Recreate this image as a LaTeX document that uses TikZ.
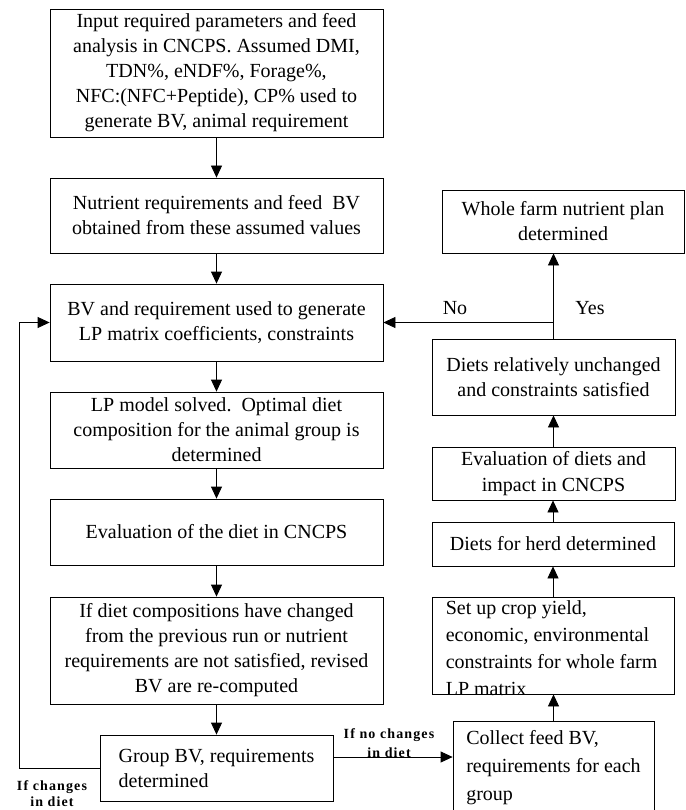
\documentclass[tikz,border=0pt]{standalone}
\usepackage{fontspec}
\setmainfont{Liberation Serif}
\usetikzlibrary{arrows.meta}

\tikzset{
  box/.style={draw, line width=0.8pt, align=center, inner sep=2pt, font=\fontsize{20}{25}\selectfont},
  plain/.style={align=left, inner sep=0pt, font=\fontsize{20}{27}\selectfont},
  arr/.style={line width=0.8pt, -{Triangle[length=12pt,width=11pt]}},
  cond/.style={align=center, inner sep=0pt, font=\fontsize{14}{19}\selectfont\bfseries\addfontfeatures{LetterSpace=8}},
}

\begin{document}
\begin{tikzpicture}[x=1pt,y=-1pt]

\useasboundingbox (0,0) rectangle (685,810);

% left column
\node[box, minimum width=333, minimum height=128] (input) at (216.5,73)
  {Input required parameters and feed\\ analysis in CNCPS. Assumed DMI,\\ TDN\%, eNDF\%, Forage\%,\\ NFC:(NFC+Peptide), CP\% used to\\ generate BV, animal requirement};
\node[box, minimum width=333, minimum height=75] (nutri) at (216.5,215.5)
  {Nutrient requirements and feed\ \ BV\\ obtained from these assumed values};
\node[box, minimum width=333, minimum height=77] (bvlp) at (216.5,322.5)
  {BV and requirement used to generate\\ LP matrix coefficients, constraints};
\node[box, minimum width=333, minimum height=76] (solve) at (216.5,430)
  {LP model solved.\ \ Optimal diet\\ composition for the animal group is\\ determined};
\node[box, minimum width=333, minimum height=66] (evaldiet) at (216.5,532)
  {Evaluation of the diet in CNCPS};
\node[box, minimum width=333, minimum height=107] (revise) at (216.5,650.5)
  {If diet compositions have changed\\ from the previous run or nutrient\\ requirements are not satisfied, revised\\ BV are re-computed};
\node[box, align=left, minimum width=233, minimum height=66] (group) at (216.5,768)
  {Group BV, requirements\\ determined};

% right column
\node[box, minimum width=242, minimum height=63] (whole) at (563,221.5)
  {Whole farm nutrient plan\\ determined};
\node[box, minimum width=243, minimum height=76] (unchanged) at (553.5,377)
  {Diets relatively unchanged\\ and constraints satisfied};
\node[box, font=\fontsize{20}{26}\selectfont, minimum width=243, minimum height=53] (evaldiets) at (553.5,473.5)
  {Evaluation of diets and\\ impact in CNCPS};
\node[box, minimum width=242, minimum height=44] (herd) at (553,544)
  {Diets for herd determined};
\node[box, minimum width=242, minimum height=97] (crop) at (553,645.5) {};
\node[plain, anchor=west] (croptext) at ([yshift=-2.5pt]crop.west) [xshift=14pt]
  {Set up crop yield,\\ economic, environmental\\ constraints for whole farm\\ LP matrix};
\node[box, align=left, font=\fontsize{20}{28}\selectfont, minimum width=201, minimum height=94] (collect) at (553.5,768)
  {Collect feed BV,\\ requirements for each\\ group};

\coordinate (split) at (unchanged.north |- bvlp.east);

\draw[arr] (input) to (nutri);
\draw[arr] (nutri) to (bvlp);
\draw[arr] (bvlp) to (solve);
\draw[arr] (solve) to (evaldiet);
\draw[arr] (evaldiet) to (revise);
\draw[arr] (revise) to (group);
\draw[arr] (group.west) -- ++(-80,0) |- (bvlp.west);
\draw[arr] ([yshift=11pt]group.east) -- ([yshift=11pt]group.east -| collect.west);

\draw[arr] (collect.north) to (collect.north |- crop.south);
\draw[arr] (crop.north) to (crop.north |- herd.south);
\draw[arr] (herd.north) to (herd.north |- evaldiets.south);
\draw[arr] (evaldiets.north) to (evaldiets.north |- unchanged.south);
\draw[arr] (unchanged.north) to (unchanged.north |- whole.south);
\draw[arr] (split) to (bvlp.east);

\node[font=\fontsize{20}{25}\selectfont] (no) at (455,308) {No};
\node[font=\fontsize{20}{25}\selectfont] (yes) at (590,308) {Yes};
\node[cond] (ifno) at (389,743) {If no changes\\ in diet};
\node[cond, font=\fontsize{14}{16}\selectfont\bfseries\addfontfeatures{LetterSpace=8}] (ifyes) at (52,794) {If changes\\ in diet};

\end{tikzpicture}
\end{document}
